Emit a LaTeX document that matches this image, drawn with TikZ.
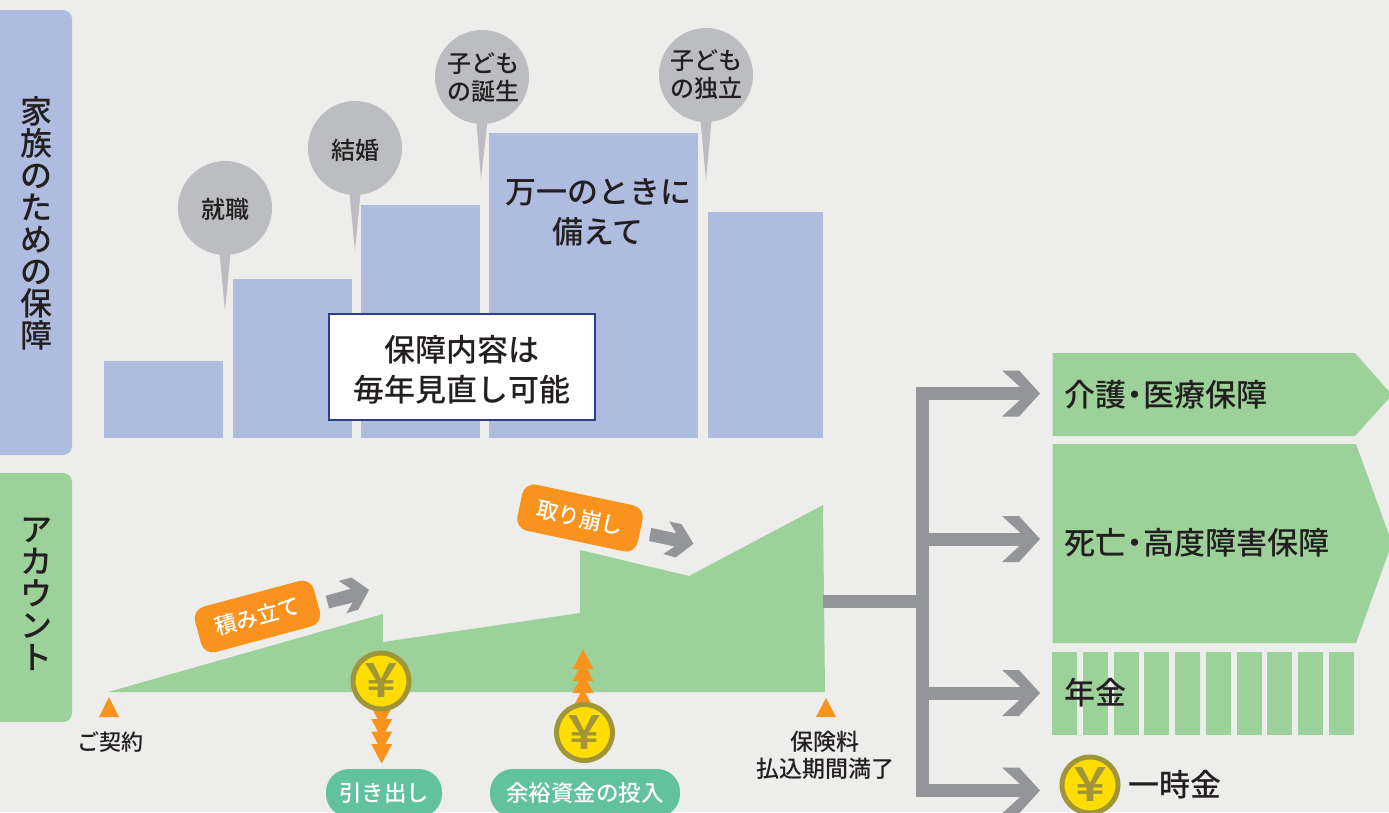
\documentclass[tikz,border=0pt]{standalone}
\usepackage{fontspec}
\setmainfont{Noto Sans CJK JP Medium}
\newfontfamily\boldjp{Noto Sans CJK JP Bold}
\usetikzlibrary{calc}
\definecolor{bgc}{HTML}{EDEDEB}
\definecolor{barblue}{HTML}{AEBDDF}
\definecolor{accgreen}{HTML}{9CD19A}
\definecolor{pingray}{HTML}{BCBDC0}
\definecolor{arrowgray}{HTML}{939598}
\definecolor{orangec}{HTML}{F9931E}
\definecolor{pillc}{HTML}{62C19E}
\definecolor{navyc}{HTML}{2B3F8C}
\definecolor{inkc}{HTML}{231F20}
\definecolor{coinring}{HTML}{A09638}
\definecolor{coinfill}{HTML}{FFDD00}
\newcommand{\fsz}[2]{\fontsize{#1}{#2}\selectfont}
\newcommand{\chevronhead}[1]{\fill[arrowgray,shift={(#1)}] (-38,-23) -- (-21,-23) -- (0,0) -- (-21,23) -- (-38,23) -- (-20,6.5) -- (-20,-6.5) -- cycle;}
\newcommand{\pinshape}[2]{\fill[pingray] ($(#1)+(-6,40)$) -- (#2) -- ($(#1)+(6,40)$) -- cycle;}
\newcommand{\orangetri}[2]{\fill[orangec] (#1-10.5,#2) -- (#1+10.5,#2) -- (#1,#2+19.5) -- cycle;}
\newcommand{\orangetriup}[2]{\fill[orangec] (#1-10.5,#2) -- (#1+10.5,#2) -- (#1,#2-19.5) -- cycle;}
\tikzset{
  pinhead/.style={circle,fill=pingray,minimum size=94pt,inner sep=0pt},
  pintext/.style={align=center,text=inkc,font=\fsz{24}{28}},
  sidelabel/.style={align=center,text=inkc,font=\fsz{32}{32}},
  greenshape/.style={fill=accgreen,draw=none},
  biglabel/.style={anchor=west,text=inkc,inner sep=0pt,font=\fsz{31}{36}},
  coinc/.style={circle,draw=coinring,line width=5pt,fill=coinfill,minimum size=56pt,inner sep=-12pt,text=coinring,font=\boldjp\fsz{46}{46}},
  pill/.style={fill=pillc,rounded corners=23pt,text=white,font=\fsz{22.5}{26},minimum height=48pt,inner sep=0pt},
  tag/.style={fill=orangec,rounded corners=12pt,text=white,font=\fsz{22}{26},minimum height=47pt,minimum width=123pt,inner sep=0pt},
  smalllabel/.style={align=center,text=inkc,font=\fsz{22}{27}},
  trunk/.style={draw=arrowgray,line width=13pt},
}
\begin{document}
\begin{tikzpicture}[x=1pt,y=-1pt]
\useasboundingbox (0,0) rectangle (1389,812);
\clip (0,0) rectangle (1389,812);
\fill[bgc] (0,0) rectangle (1389,812);
% side tabs
\fill[barblue,rounded corners=9pt] (-12,10) rectangle (72,455);
\fill[accgreen,rounded corners=9pt] (-12,473) rectangle (72,722);
\node[sidelabel] (familytab) at (36,223) {家\\族\\の\\た\\め\\の\\保\\障};
\node[sidelabel] (accounttab) at (36,594) {ア\\カ\\ウ\\ン\\ト};
% bars
\fill[barblue] (104,361) rectangle (223,438);
\fill[barblue] (233,279) rectangle (352,438);
\fill[barblue] (361,205) rectangle (480,438);
\fill[barblue] (489,133) rectangle (698,438);
\fill[barblue] (708,212) rectangle (823,438);
\node[text=inkc,align=center,font=\fsz{31}{40}] (bigtext) at (598,212) {万一のときに\\備えて};
\node[draw=navyc,line width=2pt,fill=white,minimum width=266pt,minimum height=106pt,inner sep=0pt] (reviewbox) at (462,367) {};
\node[align=center,text=inkc,font=\fsz{31}{40}] (reviewtext) at (462,370) {保障内容は\\毎年見直し可能};
% pins
\coordinate (tipA) at (225,311);
\coordinate (tipB) at (355,251);
\coordinate (tipC) at (481,179);
\coordinate (tipD) at (706,181);
\pinshape{225,208}{tipA}
\pinshape{355,148}{tipB}
\pinshape{482,76}{tipC}
\pinshape{706,75}{tipD}
\node[pinhead] (pinA) at (225,208) {};
\node[pinhead] (pinB) at (355,148) {};
\node[pinhead] (pinC) at (482,77) {};
\node[pinhead] (pinD) at (706,75) {};
\node[pintext] (pinAtext) at (225,209) {就職};
\node[pintext] (pinBtext) at (355,150) {結婚};
\node[pintext] (pinCtext) at (483,78) {子ども\\の誕生};
\node[pintext] (pinDtext) at (706,75) {子ども\\の独立};
% account
\fill[greenshape] (108,692) -- (383,614) -- (383,642) -- (580,613) -- (580,550) -- (689,576) -- (823,505) -- (825,692) -- cycle;
\node[tag,rotate=15] (tagA) at (257.5,616.5) {積み立て};
\node[tag,rotate=-12] (tagB) at (580,518) {取り崩し};
\begin{scope}[shift={(170,470)},x=.3444pt,y=-.3444pt]
\fill[arrowgray] (452,365) -- (525,345) -- (490,322) -- (527,312) -- (578,348) -- (547,405) -- (512,416) -- (530,385) -- (462,402) -- cycle;
\fill[arrowgray] (1397,168) -- (1470,184) -- (1450,150) -- (1485,157) -- (1520,214) -- (1468,254) -- (1432,244) -- (1465,222) -- (1391,206) -- cycle;
\end{scope}
% orange stacks
\orangetri{381.7}{707}
\orangetri{381.7}{719}
\orangetri{381.7}{731.5}
\orangetri{381.7}{744}
\orangetriup{583}{708}
\orangetriup{583}{693}
\orangetriup{583}{681}
\orangetriup{583}{669}
\node[coinc] (coinA) at (381,681) {￥};
\node[coinc] (coinB) at (584.5,732.5) {￥};
\node[pill,minimum width=116pt] (pillA) at (384,793) {引き出し};
\node[pill,minimum width=190pt] (pillB) at (585,793) {余裕資金の投入};
% markers
\fill[orangec] (109,697) -- (99,717) -- (119,717) -- cycle;
\fill[orangec] (826,698) -- (816,717) -- (836,717) -- cycle;
\node[smalllabel] (contract) at (110,742) {ご契約};
\node[smalllabel,font=\fsz{23}{27}] (maturity) at (825,755) {保険料\\払込期間満了};
% right shapes
\fill[greenshape] (1052.5,353) -- (1355,353) -- (1392,395) -- (1355,436) -- (1052.5,436) -- cycle;
\fill[greenshape] (1052.5,444) -- (1356,444) -- (1392,543) -- (1356,643) -- (1052.5,643) -- cycle;
\foreach \sx in {1052.3,1083.3,1114.3,1144.3,1175.3,1206.3,1237.3,1267.3,1298.3,1329.3}
  \fill[greenshape] (\sx,652) rectangle +(25,83);
\node[biglabel] (careL) at (1064,395) {介護\hspace{-7pt}・\hspace{-7pt}医療保障};
\node[biglabel] (deathL) at (1064,543) {死亡\hspace{-7pt}・\hspace{-7pt}高度障害保障};
\node[biglabel] (pensionL) at (1064,693) {年金};
\node[coinc] (coinC) at (1090,785) {￥};
\node[biglabel] (lumpL) at (1128,785) {一時金};
% trunk
\coordinate (accEnd) at (823,601);
\coordinate (trunkJoin) at (922.5,601);
\coordinate (trunkTop) at (922.5,393.5);
\coordinate (trunkBottom) at (922.5,790.5);
\coordinate (headCare) at (1040,393.5);
\coordinate (headDeath) at (1040,539);
\coordinate (headPension) at (1040,693);
\coordinate (headLump) at (1040,790.5);
\coordinate (trunkDeath) at (922.5,539);
\coordinate (trunkPension) at (922.5,693);
\draw[trunk] (accEnd) -- (trunkJoin);
\draw[trunk,line join=miter] (headCare) ++(-20,0) -- (trunkTop) -- (trunkBottom) -- ++(97.5,0);
\draw[trunk] (trunkDeath) -- ++(97.5,0);
\draw[trunk] (trunkPension) -- ++(97.5,0);
\chevronhead{headCare}
\chevronhead{headDeath}
\chevronhead{headPension}
\chevronhead{headLump}
\end{tikzpicture}
\end{document}
